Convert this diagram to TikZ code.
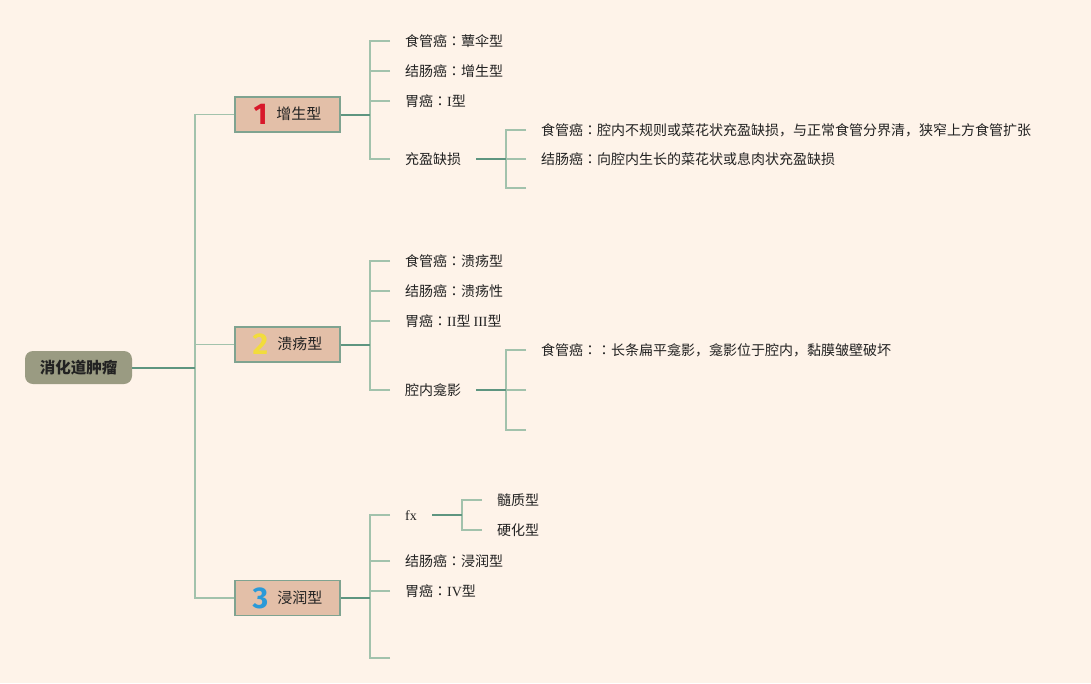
\documentclass[tikz,border=0pt]{standalone}
\usepackage{fontspec}
\setmainfont{Noto Sans CJK SC}
\newfontfamily\tcf{Noto Sans CJK TC}
\newfontfamily\lat{Liberation Serif}
\newfontfamily\numf{Fira Sans}
\newcommand{\cc}{{\tcf ：}}
\newcommand{\numtag}[2]{\raisebox{-5pt}{\color{#1}\numf\bfseries\fontsize{30}{30}\selectfont #2}}
\definecolor{bg}{HTML}{FEF3E9}
\definecolor{rootfill}{HTML}{9A9B82}
\definecolor{boxfill}{HTML}{E3BFA8}
\definecolor{boxline}{HTML}{7FA390}
\definecolor{darkln}{HTML}{5E9580}
\definecolor{liteln}{HTML}{A2C2AC}
\definecolor{txt}{HTML}{222222}
\definecolor{nred}{HTML}{D8182A}
\definecolor{nyel}{HTML}{F2DC3C}
\definecolor{nblue}{HTML}{2B9AD8}
\begin{document}
\begin{tikzpicture}[x=1pt,y=-1pt,
  rootbox/.style={rounded corners=8pt, fill=rootfill, minimum width=107pt, minimum height=33pt, inner sep=0pt, font=\fontsize{15.5}{17}\selectfont\bfseries, text=txt},
  catbox/.style={draw=boxline, line width=1.2pt, fill=boxfill, minimum width=105pt, minimum height=35pt, inner sep=0pt, font=\fontsize{15}{17}\selectfont, text=txt},
  leaf/.style={anchor=west, inner xsep=15pt, inner ysep=0pt, font=\fontsize{14}{16}\selectfont, text=txt, text height=12.3pt, text depth=1.7pt},
  darkc/.style={draw=darkln, line width=2pt},
  litec/.style={draw=liteln, line width=1.8pt}
]
\fill[bg] (0,0) rectangle (1091,683);
\useasboundingbox (0,0) rectangle (1091,683);

% root and categories
\node[rootbox] (root) at (78.5,367.5) {消化道肿瘤};
\node[catbox] (b1) at (287.5,114.5) {\numtag{nred}{1}\hspace{9pt}增生型};
\node[catbox] (b2) at (287.5,344.5) {\numtag{nyel}{2}\hspace{9pt}溃疡型};
\node[catbox] (b3) at (287.5,598) {\numtag{nblue}{3}\hspace{9pt}浸润型};

\coordinate (jr) at (195,367.5);
\coordinate (j1) at (370,114.5);
\coordinate (j2) at (370,344.5);
\coordinate (j3) at (370,598);

% group 1
\node[leaf] (t11) at (390,41) {食管癌\cc 蕈伞型};
\node[leaf] (t12) at (390,71) {结肠癌\cc 增生型};
\node[leaf] (t13) at (390,101) {胃癌\cc{\lat I}型};
\node[leaf] (t14) at (390,159) {充盈缺损};
\coordinate (k1) at (506,159);
\node[leaf] (u11) at (526,130) {食管癌\cc 腔内不规则或菜花状充盈缺损，与正常食管分界清，狭窄上方食管扩张};
\node[leaf] (u12) at (526,159) {结肠癌\cc 向腔内生长的菜花状或息肉状充盈缺损};
\node[leaf] (u13) at (526,188) {};

% group 2
\node[leaf] (t21) at (390,261) {食管癌\cc 溃疡型};
\node[leaf] (t22) at (390,291) {结肠癌\cc 溃疡性};
\node[leaf] (t23) at (390,321) {胃癌\cc{\lat II}型 {\lat III}型};
\node[leaf] (t24) at (390,390) {腔内龛影};
\coordinate (k2) at (506,390);
\node[leaf] (u21) at (526,350) {食管癌\cc\cc 长条扁平龛影，龛影位于腔内，黏膜皱壁破坏};
\node[leaf] (u22) at (526,390) {};
\node[leaf] (u23) at (526,430) {};

% group 3
\node[leaf] (t31) at (390,515) {\lat fx};
\node[leaf] (t32) at (390,561) {结肠癌\cc 浸润型};
\node[leaf] (t33) at (390,591) {胃癌\cc{\lat IV}型};
\node[leaf] (t34) at (390,658) {};
\coordinate (k3) at (462,515);
\node[leaf] (u31) at (482,500) {髓质型};
\node[leaf] (u32) at (482,530) {硬化型};

% connectors
\foreach \b in {b1,b2,b3} \draw[litec] (\b.west) -| (jr);
\draw[darkc] (root.east) -- (jr);

\foreach \t in {t11,t12,t13,t14} \draw[litec] (\t.west) -| (j1);
\draw[darkc] (b1.east) -- (j1);
\foreach \t in {u11,u12,u13} \draw[litec] (\t.west) -| (k1);
\draw[darkc] (t14.east) -- (k1);

\foreach \t in {t21,t22,t23,t24} \draw[litec] (\t.west) -| (j2);
\draw[darkc] (b2.east) -- (j2);
\foreach \t in {u21,u22,u23} \draw[litec] (\t.west) -| (k2);
\draw[darkc] (t24.east) -- (k2);

\foreach \t in {t31,t32,t33,t34} \draw[litec] (\t.west) -| (j3);
\draw[darkc] (b3.east) -- (j3);
\foreach \t in {u31,u32} \draw[litec] (\t.west) -| (k3);
\draw[darkc] (t31.east) -- (k3);
\end{tikzpicture}
\end{document}
